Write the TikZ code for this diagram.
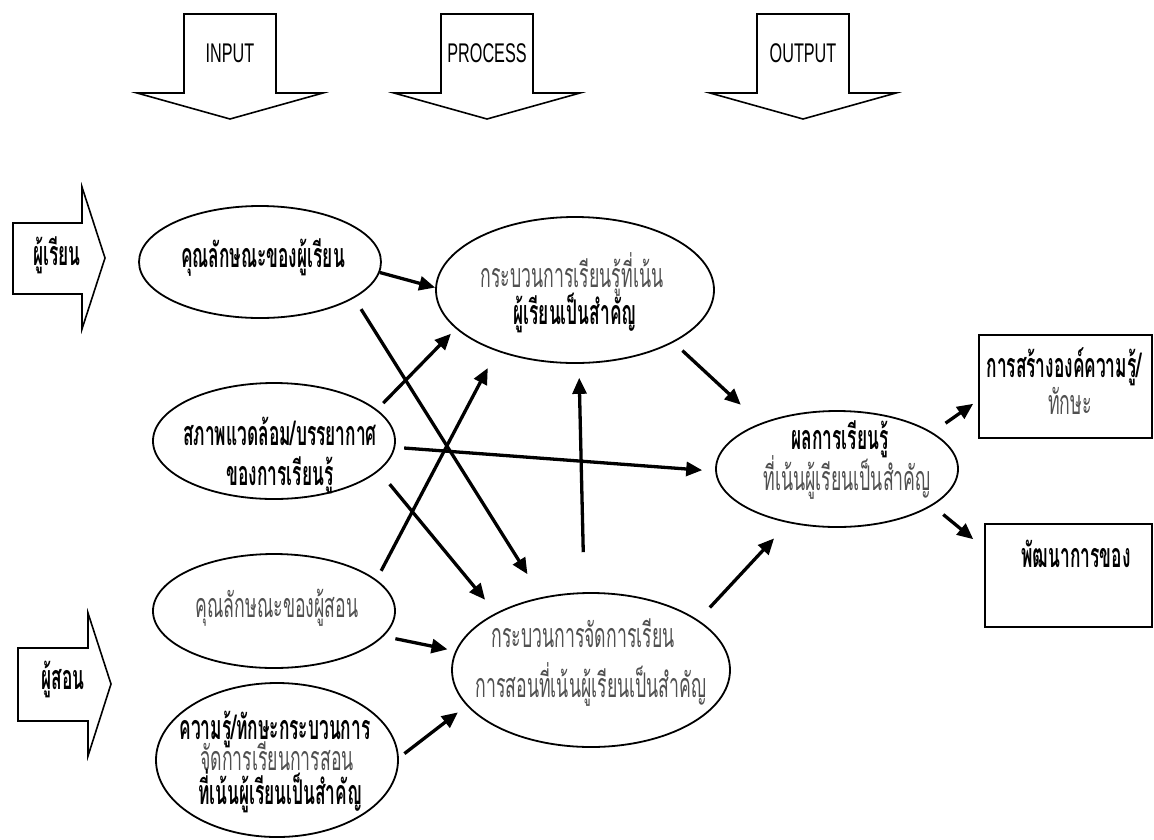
\documentclass[tikz,border=0pt]{standalone}
\usepackage{fontspec}
\usetikzlibrary{shapes.geometric,arrows.meta}
\newfontfamily\thaifont[Script=Thai,FakeStretch=0.52,BoldFeatures={FakeStretch=0.51}]{Loma}
\newfontfamily\headfont[FakeStretch=0.6]{Liberation Sans}
\definecolor{txtgray}{RGB}{80,80,80}

\begin{document}
\begin{tikzpicture}[x=1pt,y=-1pt,
  bubble/.style={ellipse, draw, line width=1.8pt, inner sep=0pt},
  outbox/.style={rectangle, draw, line width=1.8pt, inner sep=0pt},
  flow/.style={line width=3.3pt, -{Triangle[length=16pt,width=14pt]}},
  blockarrow/.style={draw, line width=1.6pt, line join=miter},
  th/.style={font=\thaifont\fontsize{34}{38}\selectfont, text=txtgray, anchor=base, inner sep=0pt},
  thb/.style={font=\thaifont\bfseries\fontsize{34}{38}\selectfont, text=black, anchor=base, inner sep=0pt},
  hd/.style={font=\headfont\fontsize{27}{30}\selectfont, anchor=base, inner sep=0pt}
]
\useasboundingbox (0,0) rectangle (1154,839);

% ---- stage headers (block arrows pointing down)
\draw[blockarrow] (184,14) -- (276,14) -- (276,93) -- (323,93) -- (230,119) -- (137,93) -- (184,93) -- cycle;
\node[hd] (hin) at (230,62) {INPUT};
\draw[blockarrow] (441,14) -- (533,14) -- (533,93) -- (580,93) -- (487,119) -- (394,93) -- (441,93) -- cycle;
\node[hd] (hpr) at (487,62) {PROCESS};
\draw[blockarrow] (757,14) -- (849,14) -- (849,93) -- (896,93) -- (803,119) -- (710,93) -- (757,93) -- cycle;
\node[hd] (hout) at (803,62) {OUTPUT};

% ---- side labels (block arrows pointing right)
\draw[blockarrow] (13,223) -- (82,223) -- (82,187) -- (105,258) -- (82,329) -- (82,294) -- (13,294) -- cycle;
\node[thb] (learner) at (57,265) {ผู้เรียน};
\draw[blockarrow] (18,648) -- (88,648) -- (88,613) -- (111,684) -- (88,756) -- (88,721) -- (18,721) -- cycle;
\node[thb] (teacher) at (63,689) {ผู้สอน};

% ---- input ellipses
\node[bubble, minimum width=242pt, minimum height=112pt] (E1) at (260,262) {};
\node[thb] (t1) at (263,267) {คุณลักษณะของผู้เรียน};

\node[bubble, minimum width=242pt, minimum height=116pt] (E2) at (274,441) {};
\node[thb] (t2a) at (280,445) {สภาพแวดล้อม/บรรยากาศ};
\node[thb] (t2b) at (280,485) {ของการเรียนรู้};

\node[bubble, minimum width=242pt, minimum height=114pt] (E3) at (274,611) {};
\node[th] (t3) at (277,617) {คุณลักษณะของผู้สอน};

\node[bubble, minimum width=242pt, minimum height=154pt] (E4) at (277,760) {};
\node[thb] (t4a) at (275,739) {ความรู้/ทักษะกระบวนการ};
\node[th] (t4b) at (277,770) {จัดการเรียนการสอน};
\node[thb] (t4c) at (280,804) {ที่เน้นผู้เรียนเป็นสำคัญ};

% ---- process ellipses
\node[bubble, minimum width=278pt, minimum height=146pt] (E5) at (575,290) {};
\node[th] (t5a) at (572,287) {กระบวนการเรียนรู้ที่เน้น};
\node[thb] (t5b) at (575,324) {ผู้เรียนเป็นสำคัญ};

\node[bubble, minimum width=278pt, minimum height=154pt] (E6) at (591,670) {};
\node[th] (t6a) at (583,647) {กระบวนการจัดการเรียน};
\node[th] (t6b) at (591,697) {การสอนที่เน้นผู้เรียนเป็นสำคัญ};

% ---- output ellipse
\node[bubble, minimum width=242pt, minimum height=116pt] (E7) at (837,469) {};
\node[thb] (t7a) at (840,449) {ผลการเรียนรู้};
\node[th] (t7b) at (847,490) {ที่เน้นผู้เรียนเป็นสำคัญ};

% ---- result boxes
\node[outbox, minimum width=173pt, minimum height=103pt] (B1) at (1065.5,386.5) {};
\node[thb] (b1a) at (1064,377) {การสร้างองค์ความรู้/};
\node[th] (b1b) at (1070,414) {ทักษะ};

\node[outbox, minimum width=167pt, minimum height=103pt] (B2) at (1068.5,575.5) {};
\node[thb] (b2a) at (1076,567) {พัฒนาการของ};

% ---- connectors
\draw[flow] (E1.-5) -- (E5.179);
\draw[flow, shorten <=13pt, shorten >=27pt] (E1.-21) -- (E6.124);
\draw[flow, shorten <=9pt, shorten >=7pt] (E2.17) -- (E5.-162);
\draw[flow, shorten <=9pt, shorten >=13pt] (E2.-3) -- (E7.-179);
\draw[flow, shorten <=17pt, shorten >=17pt] (E2.-16) -- (E6.149);
\draw[flow, shorten <=10pt, shorten >=19pt] (E3.17) -- (E5.-142);
\draw[flow, shorten <=12pt, shorten >=8pt] (E3.-13) -- (E6.172);
\draw[flow, shorten <=7pt, shorten >=11pt] (E4.1) -- (E6.-164);
\draw[flow, shorten <=40pt, shorten >=14pt] (E6.95) -- (E5.-87);
\draw[flow, shorten <=12pt, shorten >=27pt] (E5.-28) -- (E7.149);
\draw[flow, shorten <=17pt, shorten >=21pt] (E6.25) -- (E7.-132);
\draw[flow, shorten <=16pt, shorten >=6pt] (E7.21) -- (B1.-171);
\draw[flow, shorten <=14pt, shorten >=14pt] (E7.-21) -- (B2.162);
\end{tikzpicture}
\end{document}
